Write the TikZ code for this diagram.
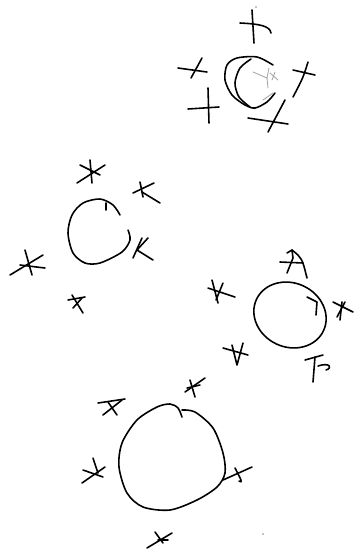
\documentclass[tikz,border=0pt]{standalone}
\usetikzlibrary{positioning}
\tikzset{ink/.style={line width=0.9pt,line cap=round,line join=round},
  faint/.style={line width=0.5pt,gray!70,line cap=round}}
\begin{document}
\begin{tikzpicture}[x=0.02cm,y=-0.02cm]
\useasboundingbox (0,0) rectangle (355,552);
% top group
\draw[ink] (252,10) -- (254,43);
\draw[ink] (240,23) .. controls (260,24) and (270,26) .. (271,33);
\draw[ink] (178,68) -- (207,72);
\draw[ink] (191,78) -- (202,58);
\draw[ink] (208,88) -- (209,123);
\draw[ink] (188,109) -- (219,107);
\draw[ink] (293,70) -- (315,75);
\draw[ink] (308,62) .. controls (303,78) .. (293,97);
\draw[ink] (248,118) -- (288,124);
\draw[ink] (285,100) -- (268,132);
\draw[ink] plot[smooth] coordinates {(273,65) (257,57) (237,58) (227,65) (225,80) (232,95) (245,105) (255,108) (267,102) (275,93)};
\draw[ink] plot[smooth] coordinates {(251,59) (240,68) (235,83) (239,97) (250,107)};
\draw[faint] (253,72) -- (267,78) -- (269,68);
\draw[faint] (267,78) -- (268,88);
\draw[faint] (270,73) -- (278,80);
\draw[faint] (275,72) -- (272,80);
\draw[faint] (263,100) -- (273,93);
\fill (256,7) circle (0.6);
% second group
\draw[ink] (77,183) -- (105,165);
\draw[ink] (90,160) -- (92,183);
\draw[ink] (80,165) -- (100,175);
\draw[ink] (133,193) -- (154,183);
\draw[ink] (140,182) -- (143,197);
\draw[ink] (142,192) -- (160,203);
\draw[ink] plot[smooth] coordinates {(128,230) (130,240) (122,252) (100,263) (85,263) (73,253) (68,233) (72,215) (83,203) (100,199) (113,205) (120,215)};
\draw[ink] (106,203) -- (106,210);
\draw[ink] (142,238) -- (133,258);
\draw[ink] (137,250) -- (148,238);
\draw[ink] (137,250) -- (153,260);
\draw[ink] (10,275) -- (43,255);
\draw[ink] (25,250) -- (32,275);
\draw[ink] (20,265) -- (45,268);
\draw[ink] (68,300) -- (85,297);
\draw[ink] (72,295) -- (83,313);
\draw[ink] (73,308) -- (82,298);
% third group
\draw[ink] (287,253) -- (292,250) -- (293,258) -- (287,273);
\draw[ink] (292,250) .. controls (302,258) .. (307,278);
\draw[ink] (280,262) -- (303,263);
\draw[ink] (208,288) -- (235,297);
\draw[ink] (212,280) -- (218,303);
\draw[ink] (223,283) -- (216,300);
\draw[ink, rotate around={-25:(290,315)}] (290,315) ellipse (37 and 32);
\draw[ink] (307,297) -- (317,302) -- (316,315);
\draw[ink] (333,302) -- (353,312);
\draw[ink] (342,302) -- (340,320);
\draw[ink] (345,302) -- (337,317);
\draw[ink] (223,348) -- (248,355);
\draw[ink] (232,345) -- (237,365) -- (243,343);
\draw[ink] (305,360) -- (323,355);
\draw[ink] (315,357) -- (313,382);
\draw[ink] (318,366) .. controls (330,362) and (333,368) .. (326,370);
% bottom group
\draw[ink] (185,392) -- (205,378);
\draw[ink] (190,380) -- (195,397);
\draw[ink] (187,388) -- (200,385);
\draw[ink] (98,403) -- (125,399);
\draw[ink] (103,415) -- (122,400);
\draw[ink] (108,402) -- (117,415);
\draw[ink] plot[smooth] coordinates {(182,410) (195,412) (213,428) (223,453) (225,473) (217,487) (197,500) (170,510) (143,507) (127,493) (119,467) (122,443) (137,420) (157,407) (170,404) (178,408) (182,417)};
\draw[ink] (223,480) -- (252,467);
\draw[ink] (235,468) .. controls (240,478) and (244,484) .. (239,481);
\draw[ink] (82,483) -- (105,467);
\draw[ink] (93,458) -- (98,473);
\draw[ink] (83,470) -- (103,477);
\draw[ink] (147,548) -- (172,533);
\draw[ink] (155,532) -- (163,543);
\draw[ink] (158,540) -- (168,540);
\fill (263,534) circle (0.6);
\end{tikzpicture}
\end{document}
